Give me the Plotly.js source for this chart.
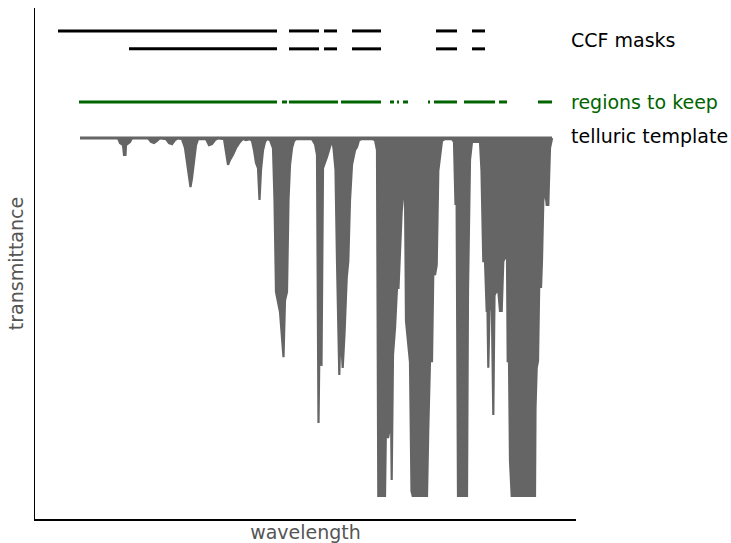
<!DOCTYPE html>
<html>
<head>
<meta charset="utf-8">
<script src="https://cdn.plot.ly/plotly-3.0.1.min.js"></script>
<style>html,body{margin:0;padding:0;background:#fff;}#chart{width:731px;height:543px;}</style>
</head>
<body>
<div id="chart"></div>
<script>
// ---- data (arbitrary wavelength units, transmittance 0..1) ----
const tellWave = [500,538,540,543,544,545.5,546,550,552,568,571,574,577,580,586,589,592,595,598,
  602,605,607.5,609,610.5,612,614,616,618,626,629,632,635,638,644,646,648,650,653,656,660,663,
  666,670,672,674,676,678,679.5,681,683,685,687,690,693,694.5,696,700,702,703.5,705,707,708.5,710,712,714,716,
  732,735,737,738.5,740,741.5,743,747,750,752,753.5,755.5,757,758,759.3,760.5,762.7,764.5,766.7,768.3,770,772,775,777,779,
  782,792,795,797,798.3,805,806,808,809.5,810.5,811.7,813,815,817,818.5,820,821.7,823.3,825,826,828,830,831.5,832.7,836,836.7,837.5,
  847,848.3,850,852,853.3,855,856.7,858.3,860,862,865,872,874,875.5,876.5,878,887,888,890,892,900,901.5,903.3,905,906.7,907.5,
  908.3,909.5,911.7,913.3,914.5,916.7,918.3,920,921.7,923.3,925,926.7,927.7,929,930,931.7,939,940,941,955,955.5,956.7,958,960,
  961,962,963.3,965,966.7,968.3,969,970,971.7,972];
const tellTrans = [1.0,1.0,0.986,0.980,0.953,0.953,0.980,0.989,1.0,1.0,0.989,0.986,0.992,1.0,0.997,0.986,0.983,0.994,1.0,
  0.997,0.972,0.916,0.880,0.863,0.888,0.944,0.980,0.997,0.997,0.980,0.983,0.994,1.0,0.997,0.966,0.925,0.939,0.953,0.972,0.989,0.997,
  0.994,0.997,0.992,0.966,0.930,0.916,0.827,0.911,0.966,0.989,0.997,0.994,0.972,0.827,0.570,0.514,0.430,0.388,0.547,0.570,0.827,0.925,0.972,0.992,0.997,
  0.997,0.983,0.953,0.204,0.547,0.363,0.916,0.947,0.980,0.994,0.972,0.911,0.656,0.525,0.338,0.469,0.358,0.453,0.609,0.656,0.827,0.925,0.966,0.975,0.994,
  0.997,0.997,0.994,0.966,0.0,0.0,0.209,0.162,0.184,0.394,0.045,0.394,0.469,0.581,0.581,0.701,0.796,0.841,0.855,0.489,0.436,0.374,0.014,0.0,0.0,0.078,0.0,
  0.0,0.190,0.377,0.377,0.628,0.617,0.645,0.908,0.953,0.992,0.997,0.997,0.989,0.813,0.897,0.0,0.0,0.575,0.939,0.989,0.989,0.908,0.656,0.656,0.517,0.517,
  0.358,0.517,0.561,0.226,0.561,0.573,0.573,0.517,0.517,0.656,0.665,0.796,0.377,0.377,0.098,0.0,0.0,0.073,0.0,0.0,0.246,0.358,0.377,0.729,
  0.581,0.659,0.824,0.860,0.813,0.813,0.883,0.972,0.994,1.0];
const continuumWave = [500, 972];
const continuumTrans = [1.0, 1.0];

const ccfMaskA_start = [478, 709, 744, 772, 856, 892];
const ccfMaskA_end   = [697, 739, 757, 801, 877, 905];
const ccfMaskB_start = [549, 709, 744, 772, 856, 892];
const ccfMaskB_end   = [697, 739, 757, 801, 877, 905];
const keep_start = [499, 702, 709, 761, 810, 817, 823, 848, 854, 884, 919, 958];
const keep_end   = [697, 707, 758, 801, 814, 819, 828, 850, 877, 915, 927, 972];

const rowLevels = {ccfA: 1.299, ccfB: 1.249, keep: 1.1006};
const labels = ["CCF masks", "regions to keep", "telluric template"];

// ---- helpers ----
function segTrace(starts, ends, level, color) {
  const x = [], y = [];
  for (let i = 0; i < starts.length; i++) {
    x.push(starts[i], ends[i], null);
    y.push(level, level, null);
  }
  return {x, y, type: 'scatter', mode: 'lines', line: {color, width: 3}, hoverinfo: 'skip', showlegend: false, connectgaps: false};
}

const gray = '#656565';
const traces = [
  {x: continuumWave, y: continuumTrans, type: 'scatter', mode: 'lines', line: {color: gray, width: 3}, showlegend: false},
  {x: tellWave, y: tellTrans, type: 'scatter', mode: 'lines', fill: 'tonexty', fillcolor: gray, line: {color: gray, width: 2.2}, showlegend: false},
  segTrace(ccfMaskA_start, ccfMaskA_end, rowLevels.ccfA, '#000000'),
  segTrace(ccfMaskB_start, ccfMaskB_end, rowLevels.ccfB, '#000000'),
  segTrace(keep_start, keep_end, rowLevels.keep, '#006400')
];

const font = {family: 'DejaVu Sans, sans-serif', size: 19};
const layout = {
  width: 731, height: 543,
  margin: {l: 35, r: 155, t: 8, b: 24},
  paper_bgcolor: '#ffffff', plot_bgcolor: '#ffffff',
  font: font,
  showlegend: false,
  xaxis: {range: [455, 996], showgrid: false, zeroline: false, showticklabels: false, ticks: '',
    showline: true, linecolor: '#000', linewidth: 1.5,
    title: {text: 'wavelength', font: {family: font.family, size: 19, color: '#555555'}}},
  yaxis: {range: [-0.0642, 1.3631], showgrid: false, zeroline: false, showticklabels: false, ticks: '',
    showline: true, linecolor: '#000', linewidth: 1.5,
    title: {text: 'transmittance', standoff: 5, font: {family: font.family, size: 19, color: '#555555'}}},
  annotations: [
    {x: 989, y: 1.2737, xref: 'x', yref: 'y', text: labels[0], showarrow: false, xanchor: 'left', yanchor: 'middle', font: {family: font.family, size: 19, color: '#000'}},
    {x: 989, y: 1.1006, xref: 'x', yref: 'y', text: labels[1], showarrow: false, xanchor: 'left', yanchor: 'middle', font: {family: font.family, size: 19, color: '#006400'}},
    {x: 989, y: 1.0055, xref: 'x', yref: 'y', text: labels[2], showarrow: false, xanchor: 'left', yanchor: 'middle', font: {family: font.family, size: 19, color: '#000'}}
  ]
};
Plotly.newPlot('chart', traces, layout, {staticPlot: true, displayModeBar: false});
</script>
</body>
</html>
